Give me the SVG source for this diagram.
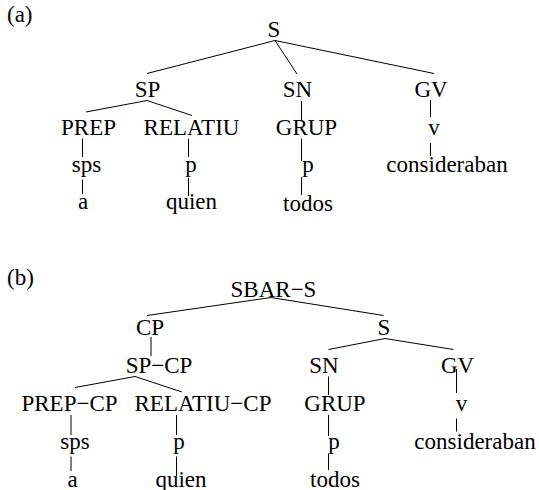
<svg xmlns="http://www.w3.org/2000/svg" width="539" height="490" viewBox="0 0 539 490">
<style>
.t{font-family:"Liberation Serif","Times New Roman","DejaVu Serif",serif;font-size:23px;fill:#000;text-anchor:middle}
.lbl{text-anchor:start}
.l{stroke:#000;stroke-width:1;fill:none}
</style>
<rect width="539" height="490" fill="#fff"/>
<g id="connectors">
<line class="l" x1="275" y1="40.5" x2="147" y2="73.5"/>
<line class="l" x1="275" y1="40.5" x2="297" y2="74"/>
<line class="l" x1="275" y1="40.5" x2="434" y2="73.5"/>
<line class="l" x1="147" y1="100.5" x2="86" y2="112"/>
<line class="l" x1="147" y1="100.5" x2="192" y2="115.5"/>
<line class="l" x1="82.5" y1="138.5" x2="82.5" y2="157"/>
<line class="l" x1="82.5" y1="179.5" x2="82.5" y2="194"/>
<line class="l" x1="188.5" y1="138.5" x2="188.5" y2="157"/>
<line class="l" x1="188.5" y1="178" x2="188.5" y2="196"/>
<line class="l" x1="301.5" y1="101" x2="301.5" y2="120"/>
<line class="l" x1="301.5" y1="138.5" x2="301.5" y2="161"/>
<line class="l" x1="301.5" y1="177" x2="301.5" y2="195"/>
<line class="l" x1="430.5" y1="100" x2="430.5" y2="117"/>
<line class="l" x1="430.5" y1="143" x2="430.5" y2="156"/>
<line class="l" x1="271" y1="297.5" x2="147" y2="315.5"/>
<line class="l" x1="271" y1="297.5" x2="383.5" y2="315.5"/>
<line class="l" x1="151" y1="337" x2="151" y2="356"/>
<line class="l" x1="135" y1="376.5" x2="75" y2="387.5"/>
<line class="l" x1="135" y1="376.5" x2="182" y2="392"/>
<line class="l" x1="71" y1="415" x2="71" y2="435"/>
<line class="l" x1="71" y1="456.5" x2="71" y2="471"/>
<line class="l" x1="176.5" y1="415" x2="176.5" y2="435"/>
<line class="l" x1="176.5" y1="456.5" x2="176.5" y2="476"/>
<line class="l" x1="385" y1="338.5" x2="328.5" y2="349.5"/>
<line class="l" x1="385" y1="338.5" x2="453.5" y2="349.5"/>
<line class="l" x1="328.5" y1="376.5" x2="328.5" y2="395"/>
<line class="l" x1="328.5" y1="415" x2="328.5" y2="436"/>
<line class="l" x1="328.5" y1="453.5" x2="328.5" y2="470"/>
<line class="l" x1="456.5" y1="369" x2="456.5" y2="393"/>
<line class="l" x1="456.5" y1="418.5" x2="456.5" y2="431.5"/>
</g>
<g id="label-a"><text class="t lbl" x="7" y="21.5">(a)</text></g>
<g id="a-S"><text class="t" x="274" y="37">S</text></g>
<g id="a-SP"><text class="t" x="147.5" y="97">SP</text></g>
<g id="a-SN"><text class="t" x="297.5" y="97">SN</text></g>
<g id="a-GV"><text class="t" x="431" y="97">GV</text></g>
<g id="a-PREP"><text class="t" x="88.5" y="134.5">PREP</text></g>
<g id="a-RELATIU"><text class="t" x="191.5" y="134.5">RELATIU</text></g>
<g id="a-GRUP"><text class="t" x="306.5" y="134.5">GRUP</text></g>
<g id="a-v"><text class="t" x="434" y="134.5">v</text></g>
<g id="a-sps"><text class="t" x="86.5" y="171.5">sps</text></g>
<g id="a-p1"><text class="t" x="191" y="171.5">p</text></g>
<g id="a-p2"><text class="t" x="308" y="171.5">p</text></g>
<g id="a-consideraban"><text class="t" x="447" y="171.5">consideraban</text></g>
<g id="a-a"><text class="t" x="83" y="209">a</text></g>
<g id="a-quien"><text class="t" x="191.5" y="209">quien</text></g>
<g id="a-todos"><text class="t" x="308" y="211">todos</text></g>
<g id="label-b"><text class="t lbl" x="7" y="285">(b)</text></g>
<g id="b-SBAR-S"><text class="t" x="273.5" y="296.5">SBAR−S</text></g>
<g id="b-CP"><text class="t" x="150" y="335">CP</text></g>
<g id="b-S"><text class="t" x="384" y="335">S</text></g>
<g id="b-SP-CP"><text class="t" x="159" y="373">SP−CP</text></g>
<g id="b-SN"><text class="t" x="324" y="373">SN</text></g>
<g id="b-GV"><text class="t" x="457.5" y="373">GV</text></g>
<g id="b-PREP-CP"><text class="t" x="69.5" y="411">PREP−CP</text></g>
<g id="b-RELATIU-CP"><text class="t" x="203" y="411">RELATIU−CP</text></g>
<g id="b-GRUP"><text class="t" x="335" y="411">GRUP</text></g>
<g id="b-v"><text class="t" x="461.5" y="411">v</text></g>
<g id="b-sps"><text class="t" x="75" y="448.5">sps</text></g>
<g id="b-p1"><text class="t" x="179" y="448.5">p</text></g>
<g id="b-p2"><text class="t" x="334" y="448.5">p</text></g>
<g id="b-consideraban"><text class="t" x="475" y="448.5">consideraban</text></g>
<g id="b-a"><text class="t" x="72.5" y="486.5">a</text></g>
<g id="b-quien"><text class="t" x="181" y="486.5">quien</text></g>
<g id="b-todos"><text class="t" x="335" y="486.5">todos</text></g>
</svg>
